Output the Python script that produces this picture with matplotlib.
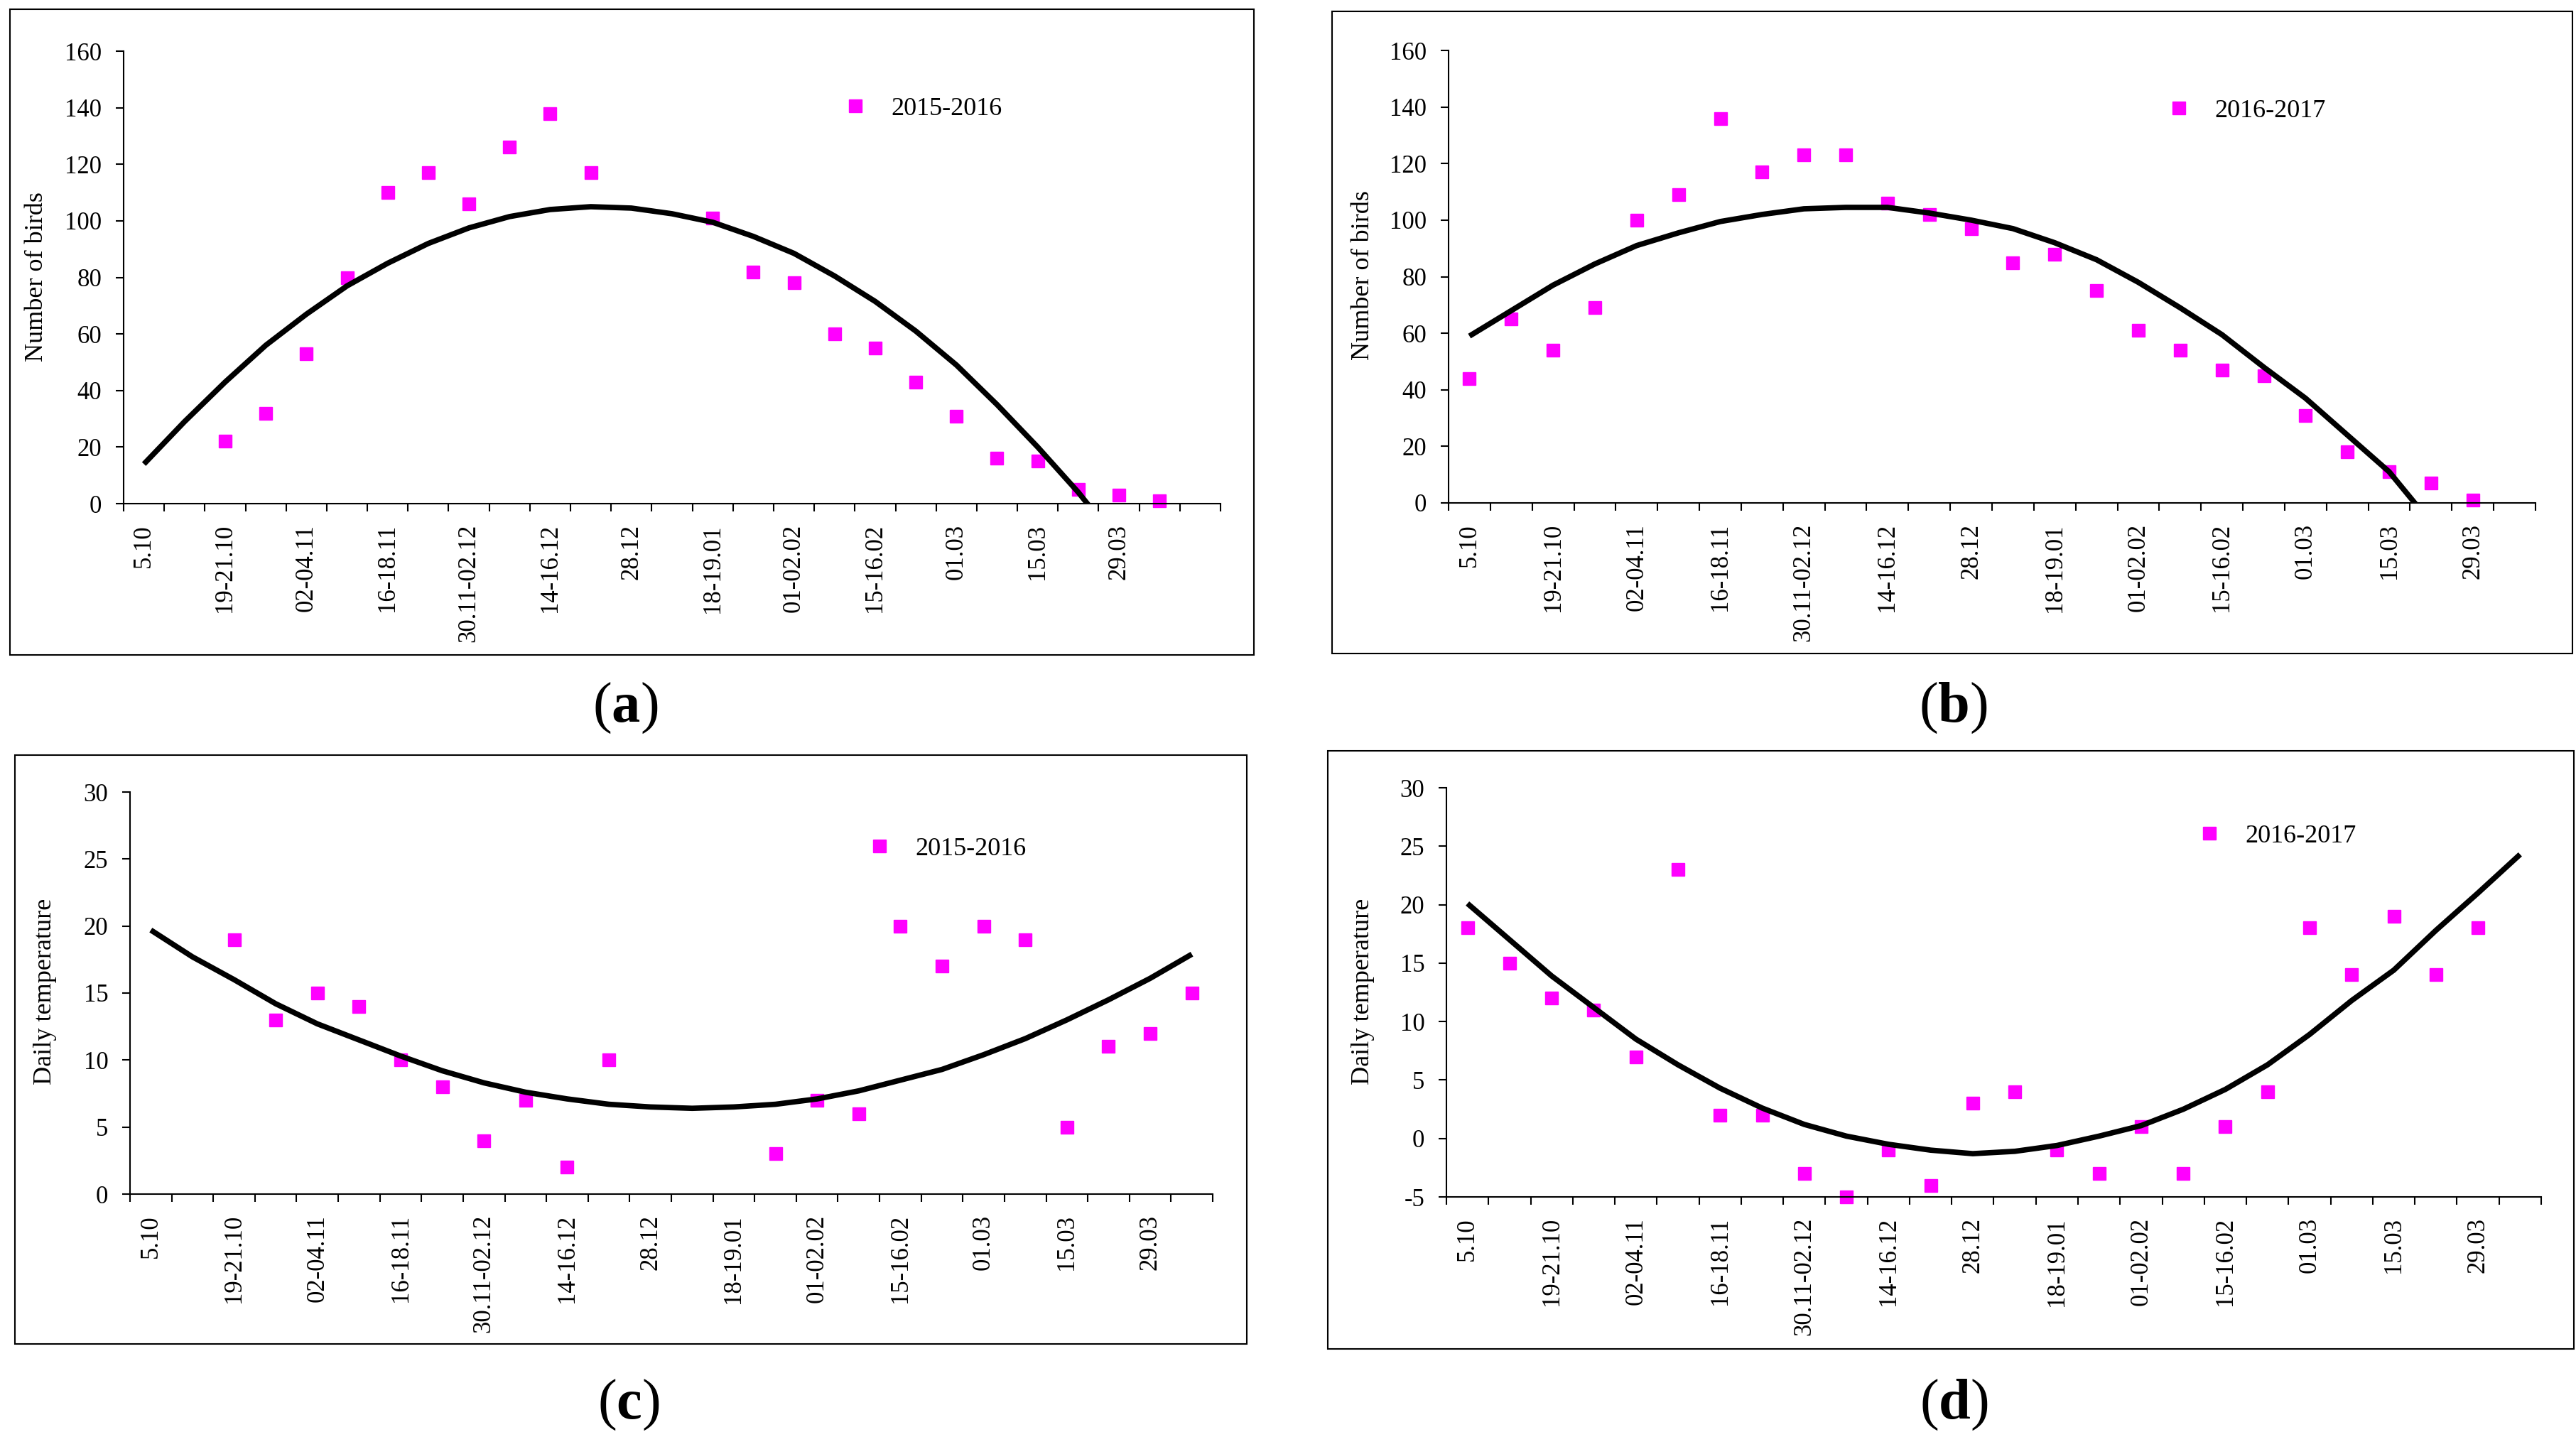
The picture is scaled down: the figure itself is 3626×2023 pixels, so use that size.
import numpy as np
import matplotlib
matplotlib.use("Agg")
import matplotlib.pyplot as plt
from matplotlib.patches import Rectangle

plt.rcParams['font.family'] = ['Liberation Serif', 'DejaVu Serif']
plt.rcParams['axes.unicode_minus'] = False
plt.rcParams['mathtext.fontset'] = 'custom'
plt.rcParams['mathtext.rm'] = 'Liberation Serif'
plt.rcParams['mathtext.bf'] = 'Liberation Serif:bold'

nan = np.nan

# dates shown on every second category
dates = ["5.10", "19-21.10", "02-04.11", "16-18.11", "30.11-02.12", "14-16.12",
         "28.12", "18-19.01", "01-02.02", "15-16.02", "01.03", "15.03", "29.03"]

# (a) number of birds 2015-2016 (27 categories)
birds_1516 = [nan, nan, 22, 32, 53, 80, 110, 117, 106, 126, 138, 117, nan, nan,
              101, 82, 78, 60, 55, 43, 31, 16, 15, 5, 3, 1, nan]
trend_birds_1516 = [14, 29, 43, 56, 67, 77, 85, 92, 97.5, 101.5, 104, 105, 104.5, 102.5,
                    99.5, 94.5, 88.5, 80.5, 71.5, 61, 49, 35, 20, 4, -14, nan, nan]

# (b) number of birds 2016-2017 (26 categories)
birds_1617 = [44, 65, 54, 69, 100, 109, 136, 117, 123, 123, 106, 102, 97, 85,
              88, 75, 61, 54, 47, 45, 31, 18, 11, 7, 1, nan]
trend_birds_1617 = [59, 68, 77, 84.5, 91, 95.5, 99.5, 102, 104, 104.5, 104.5, 102.5, 100, 97,
                    92, 86, 78, 69, 59.5, 48, 37, 24, 11, -7, nan, nan]

# (c) daily temperature 2015-2016
temp_1516 = [nan, nan, 19, 13, 15, 14, 10, 8, 4, 7, 2, 10, nan, nan,
             nan, 3, 7, 6, 20, 17, 20, 19, 5, 11, 12, 15]
trend_temp_1516 = [19.7, 17.7, 16.0, 14.2, 12.7, 11.5, 10.3, 9.2, 8.3, 7.6, 7.1, 6.7, 6.5, 6.4,
                   6.5, 6.7, 7.1, 7.7, 8.5, 9.3, 10.4, 11.6, 13.0, 14.5, 16.1, 17.9]

# (d) daily temperature 2016-2017
temp_1617 = [18, 15, 12, 11, 7, 23, 2, 2, -3, -5, -1, -4, 3, 4,
             -1, -3, 1, -3, 1, 4, 18, 14, 19, 14, 18, nan]
trend_temp_1617 = [20.1, 17.0, 13.9, 11.2, 8.5, 6.3, 4.3, 2.6, 1.2, 0.2, -0.5, -1.0, -1.3, -1.1,
                   -0.6, 0.2, 1.1, 2.5, 4.2, 6.3, 8.9, 11.8, 14.4, 17.8, 21.0, 24.3]

W, H = 3626, 2023
fig = plt.figure(figsize=(W / 100, H / 100), dpi=100)


def px_axes(x0, x1, ytop, ybot):
    return fig.add_axes([x0 / W, 1 - ybot / H, (x1 - x0) / W, (ybot - ytop) / H])


def panel(ax, values, trend, ylo, yhi, ystep, season, leg_xy):
    n = len(values)
    x = np.arange(n)
    labels = [dates[i // 2] if i % 2 == 0 and i // 2 < len(dates) else "" for i in range(n)]

    ax.plot(x, values, 's', color='#FF00FF', mec='#FF00FF', ms=13.5,
            linestyle='none', clip_on=False, zorder=2, label=season)
    ax.plot(x, trend, '-', color='black', lw=5.5, zorder=3,
            solid_capstyle='butt')

    ax.set_xlim(-0.5, n - 0.5)
    ax.set_ylim(ylo, yhi)
    ax.set_yticks(np.arange(ylo, yhi + 1, ystep))

    ax.set_xticks(np.arange(-0.5, n))
    ax.set_xticklabels([])
    ax.set_xticks(x, minor=True)
    ax.set_xticklabels(labels, minor=True, rotation=90, fontsize=25)

    ax.tick_params(axis='x', which='major', direction='out', length=8, width=1.5)
    ax.tick_params(axis='x', which='minor', length=0, pad=21)
    ax.tick_params(axis='y', direction='out', length=8, width=1.5, pad=14, labelsize=25)

    for s in ['top', 'right']:
        ax.spines[s].set_visible(False)
    for s in ['left', 'bottom']:
        ax.spines[s].set_linewidth(1.5)

    lx, ly = leg_xy
    ax.legend(loc='center left', bbox_to_anchor=((lx - 18) / W, 1 - ly / H),
              bbox_transform=fig.transFigure, frameon=False, fontsize=26,
              borderpad=0, handlelength=1.0, handletextpad=0.9, numpoints=1)


ax_a = px_axes(174, 1718, 72, 709)
ax_b = px_axes(2039, 3569, 71, 708)
ax_c = px_axes(183, 1707, 1115, 1681)
ax_d = px_axes(2036, 3577, 1109, 1685)

panel(ax_a, birds_1516, trend_birds_1516, 0, 160, 20, "2015-2016", (1186, 153))
panel(ax_b, birds_1617, trend_birds_1617, 0, 160, 20, "2016-2017", (3049, 156))
panel(ax_c, temp_1516, trend_temp_1516, 0, 30, 5, "2015-2016", (1220, 1195))
panel(ax_d, temp_1617, trend_temp_1617, -5, 30, 5, "2016-2017", (3092, 1177))

# y labels
fig.text(52 / W, 1 - 390 / H, "Number of birds", rotation=90, ha='center', va='center', fontsize=26)
fig.text(1919 / W, 1 - 388 / H, "Number of birds", rotation=90, ha='center', va='center', fontsize=26)
fig.text(64 / W, 1 - 1396 / H, "Daily temperature", rotation=90, ha='center', va='center', fontsize=26)
fig.text(1919 / W, 1 - 1396 / H, "Daily temperature", rotation=90, ha='center', va='center', fontsize=26)

# frames around each chart
for x0, x1, y0, y1 in [(14, 1765, 13, 922), (1875, 3621, 16, 920),
                       (21, 1755, 1063, 1892), (1869, 3623, 1057, 1899)]:
    fig.patches.append(Rectangle((x0 / W, 1 - y1 / H), (x1 - x0) / W, (y1 - y0) / H,
                                 transform=fig.transFigure, fill=False,
                                 edgecolor='black', lw=1.5))

# panel letters
for x, y, t in [(880, 997, 'a'), (2749, 997, 'b'), (885, 1978, 'c'), (2750, 1978, 'd')]:
    fig.text(x / W, 1 - y / H, r"($\mathbf{%s}$)" % t, ha='center', va='center', fontsize=58)

fig.savefig("out.png", dpi=100)
